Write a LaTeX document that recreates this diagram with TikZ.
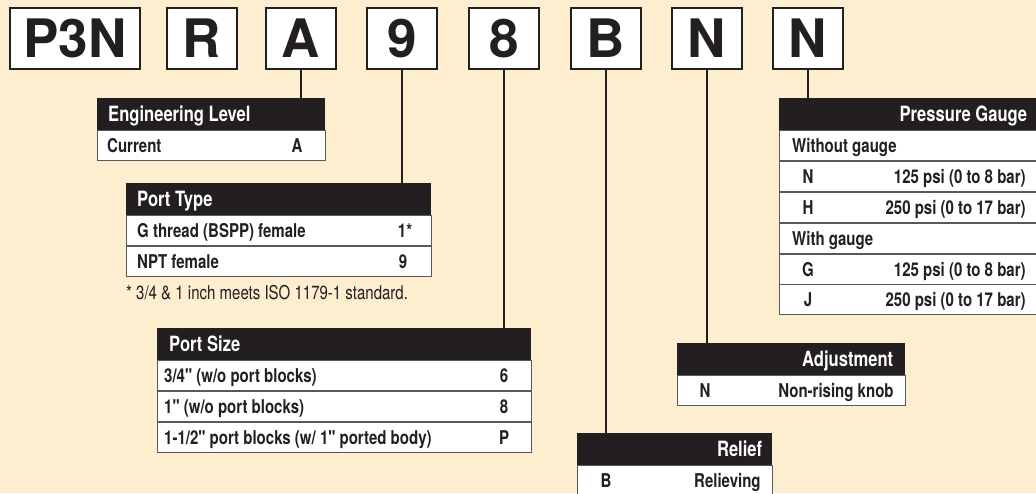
\documentclass[tikz,border=0pt]{standalone}
\usepackage{fontspec}
\setmainfont{TeX Gyre Heros}
\newfontfamily\condfont{TeX Gyre Heros}[FakeStretch=0.79]
\usetikzlibrary{positioning}
\usetikzlibrary{math}
\usetikzlibrary{calc}

\definecolor{paper}{HTML}{FEEED0}
\definecolor{ink}{HTML}{231F20}
\definecolor{rulegray}{HTML}{58595B}

\begin{document}
\begin{tikzpicture}[x=1pt,y=-1pt,
  codebox/.style={draw=ink,line width=1.6pt,fill=white,minimum width=70pt,
    minimum height=61pt,inner sep=0pt,text=ink,
    font=\bfseries\fontsize{53}{53}\selectfont},
  tblhead/.style={fill=ink,anchor=north west,minimum height=\headh pt,inner sep=0pt},
  tblrow/.style={draw=rulegray,line width=0.8pt,fill=white,anchor=north west,
    minimum height=\rowh pt,inner sep=0pt},
  htext/.style={text=white,inner sep=0pt,text height=19pt,text depth=4pt,
    font=\condfont\bfseries\fontsize{21}{21}\selectfont},
  rtext/.style={text=ink,inner sep=0pt,text height=18pt,text depth=4pt,
    font=\condfont\bfseries\fontsize{19}{19}\selectfont},
  link/.style={draw=ink,line width=1.6pt}]

  \tikzmath{
    \headh = 32;   % height of the black title bar
    \rowh  = 30;   % height of one table row
    \topy  = 38.5; % centre line of the code boxes
  }

  % background
  \fill[paper] (0,0) rectangle (1036,493);
  \useasboundingbox (0,0) rectangle (1036,493);

  % model code boxes
  \node[codebox,minimum width=130pt] (cP3N) at (75,\topy) {P3N};
  \node[codebox] (cR)  at (202,\topy) {R};
  \node[codebox] (cA)  at (301,\topy) {A};
  \node[codebox] (c9)  at (402,\topy) {9};
  \node[codebox] (c8)  at (504,\topy) {8};
  \node[codebox] (cB)  at (606,\topy) {B};
  \node[codebox] (cN1) at (707,\topy) {N};
  \node[codebox] (cN2) at (808,\topy) {N};

  % Engineering level
  \node[tblhead,minimum width=228pt] (elHead) at (97,98) {};
  \node[tblrow,minimum width=228pt] (elRow1) at (elHead.south west) {};
  \node[htext,anchor=west] (elTitle) at ([xshift=11pt]elHead.west) {Engineering Level};
  \node[rtext,anchor=west] (elTxt1) at ([xshift=10pt]elRow1.west) {Current};
  \node[rtext] (elCode1) at ([xshift=-4pt]elRow1.center -| cA) {A};

  % Port type
  \node[tblhead,minimum width=305pt] (ptHead) at (126,183) {};
  \node[tblrow,minimum width=305pt] (ptRow1) at (ptHead.south west) {};
  \node[tblrow,minimum width=305pt] (ptRow2) at (ptRow1.south west) {};
  \node[htext,anchor=west] (ptTitle) at ([xshift=11pt]ptHead.west) {Port Type};
  \node[rtext,anchor=west] (ptTxt1) at ([xshift=11pt]ptRow1.west) {G thread (BSPP) female};
  \node[rtext,anchor=west] (ptTxt2) at ([xshift=11pt]ptRow2.west) {NPT female};
  \node[rtext] (ptCode1) at ([xshift=3pt]ptRow1.center -| c9) {1*};
  \node[rtext] (ptCode2) at ([xshift=1pt]ptRow2.center -| c9) {9};
  \node[text=ink,anchor=base west,inner sep=0pt,
    font=\condfont\fontsize{19}{19}\selectfont] (ptNote) at ([yshift=-22pt]ptRow2.south west)
    {* 3/4 \& 1 inch meets ISO 1179-1 standard.};

  % Port size
  \node[tblhead,minimum width=374pt] (psHead) at (157,328) {};
  \node[tblrow,minimum width=374pt] (psRow1) at (psHead.south west) {};
  \node[tblrow,minimum width=374pt] (psRow2) at (psRow1.south west) {};
  \node[tblrow,minimum width=374pt] (psRow3) at (psRow2.south west) {};
  \node[htext,anchor=west] (psTitle) at ([xshift=12pt]psHead.west) {Port Size};
  \node[rtext,anchor=west] (psTxt1) at ([xshift=7pt]psRow1.west) {3/4" (w/o port blocks)};
  \node[rtext,anchor=west] (psTxt2) at ([xshift=7pt]psRow2.west) {1" (w/o port blocks)};
  \node[rtext,anchor=west] (psTxt3) at ([xshift=7pt]psRow3.west) {1-1/2" port blocks (w/ 1" ported body)};
  \node[rtext] (psCode1) at (psRow1.center -| c8) {6};
  \node[rtext] (psCode2) at (psRow2.center -| c8) {8};
  \node[rtext] (psCode3) at (psRow3.center -| c8) {P};

  % Relief
  \node[tblhead,minimum width=195pt] (rfHead) at (577,433) {};
  \node[tblrow,minimum width=195pt] (rfRow1) at (rfHead.south west) {};
  \node[htext,anchor=east] (rfTitle) at ([xshift=-10pt]rfHead.east) {Relief};
  \node[rtext,anchor=east] (rfTxt1) at ([xshift=-12pt]rfRow1.east) {Relieving};
  \node[rtext] (rfCode1) at (rfRow1.center -| cB) {B};

  % Adjustment
  \node[tblhead,minimum width=228pt] (adHead) at (677,343) {};
  \node[tblrow,minimum width=228pt] (adRow1) at (adHead.south west) {};
  \node[htext,anchor=east] (adTitle) at ([xshift=-12pt]adHead.east) {Adjustment};
  \node[rtext,anchor=east] (adTxt1) at ([xshift=-12pt]adRow1.east) {Non-rising knob};
  \node[rtext] (adCode1) at ([xshift=-2pt]adRow1.center -| cN1) {N};

  % Pressure gauge
  \node[tblhead,minimum width=258pt] (pgHead) at (779,98) {};
  \node[tblrow,minimum width=258pt] (pgRow1) at (pgHead.south west) {};
  \node[tblrow,minimum width=258pt] (pgRow2) at (pgRow1.south west) {};
  \node[tblrow,minimum width=258pt] (pgRow3) at (pgRow2.south west) {};
  \node[tblrow,minimum width=258pt] (pgRow4) at (pgRow3.south west) {};
  \node[tblrow,minimum width=258pt] (pgRow5) at (pgRow4.south west) {};
  \node[tblrow,minimum width=258pt] (pgRow6) at (pgRow5.south west) {};
  \node[htext,anchor=east] (pgTitle) at ([xshift=-10pt]pgHead.east) {Pressure Gauge};
  \node[rtext,anchor=west] (pgTxt1) at ([xshift=13pt]pgRow1.west) {Without gauge};
  \node[rtext,anchor=west] (pgTxt4) at ([xshift=13pt]pgRow4.west) {With gauge};
  \node[rtext] (pgCode2) at (pgRow2.center -| cN2) {N};
  \node[rtext] (pgCode3) at (pgRow3.center -| cN2) {H};
  \node[rtext] (pgCode5) at (pgRow5.center -| cN2) {G};
  \node[rtext] (pgCode6) at (pgRow6.center -| cN2) {J};
  \node[rtext,anchor=east] (pgTxt2) at ([xshift=-12pt]pgRow2.east) {125 psi (0 to 8 bar)};
  \node[rtext,anchor=east] (pgTxt3) at ([xshift=-12pt]pgRow3.east) {250 psi (0 to 17 bar)};
  \node[rtext,anchor=east] (pgTxt5) at ([xshift=-12pt]pgRow5.east) {125 psi (0 to 8 bar)};
  \node[rtext,anchor=east] (pgTxt6) at ([xshift=-12pt]pgRow6.east) {250 psi (0 to 17 bar)};

  % leader lines from the code boxes down to their tables
  \draw[link] (cA.south)  -- (cA.south |- elHead.north);
  \draw[link] (c9.south)  -- (c9.south |- ptHead.north);
  \draw[link] (c8.south)  -- (c8.south |- psHead.north);
  \draw[link] (cB.south)  -- (cB.south |- rfHead.north);
  \draw[link] (cN1.south) -- (cN1.south |- adHead.north);
  \draw[link] (cN2.south) -- (cN2.south |- pgHead.north);

\end{tikzpicture}
\end{document}
